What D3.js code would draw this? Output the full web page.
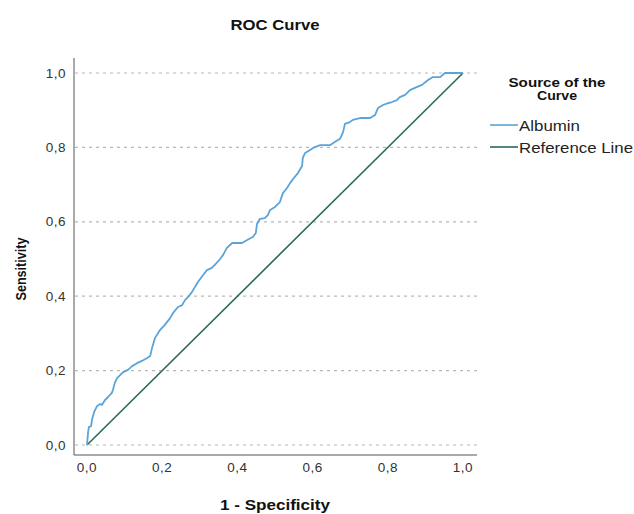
<!DOCTYPE html>
<html><head><meta charset="utf-8">
<script src="https://cdn.jsdelivr.net/npm/d3@7"></script>
<style>body{margin:0;background:#fff}svg{display:block}text{font-family:"Liberation Sans",Arial,sans-serif}</style>
</head><body>
<svg id="c" width="634" height="514"></svg>
<script>
const fpr = [0,0.003,0.005,0.011,0.013,0.019,0.027,0.035,0.040,0.048,0.056,0.066,0.069,0.074,0.080,0.088,0.096,0.109,0.120,0.133,0.146,0.160,0.168,0.173,0.181,0.194,0.207,0.221,0.229,0.242,0.253,0.261,0.269,0.279,0.287,0.295,0.309,0.319,0.332,0.340,0.354,0.362,0.372,0.386,0.412,0.426,0.441,0.449,0.452,0.460,0.473,0.481,0.487,0.500,0.513,0.521,0.532,0.540,0.548,0.561,0.572,0.574,0.580,0.593,0.606,0.620,0.646,0.660,0.673,0.681,0.686,0.699,0.707,0.726,0.753,0.766,0.774,0.787,0.801,0.811,0.824,0.832,0.846,0.859,0.872,0.891,0.907,0.920,0.939,0.952,1.000];
const tpr = [0,0.035,0.048,0.051,0.067,0.089,0.105,0.110,0.108,0.121,0.129,0.140,0.148,0.167,0.180,0.188,0.196,0.202,0.212,0.220,0.226,0.234,0.239,0.261,0.288,0.309,0.323,0.341,0.355,0.371,0.376,0.390,0.398,0.411,0.425,0.438,0.457,0.470,0.476,0.484,0.500,0.511,0.530,0.543,0.543,0.551,0.559,0.570,0.594,0.608,0.610,0.618,0.632,0.640,0.653,0.677,0.691,0.704,0.715,0.731,0.750,0.772,0.785,0.793,0.801,0.806,0.806,0.815,0.823,0.841,0.863,0.868,0.874,0.879,0.879,0.887,0.906,0.914,0.919,0.922,0.927,0.935,0.941,0.954,0.960,0.968,0.981,0.989,0.989,1.000,1.000];
const refLine = [0, 1];
const ticks = [0, 0.2, 0.4, 0.6, 0.8, 1.0];
const tickLabels = ["0,0","0,2","0,4","0,6","0,8","1,0"];
const seriesNames = ["Albumin", "Reference Line"];
const colors = ["#5aa4d8", "#2a6a5e"];

const svg = d3.select("#c");
const x = d3.scaleLinear().domain([0,1]).range([87,463]);
const y = d3.scaleLinear().domain([0,1]).range([445,73]);
const axX0 = 74, axX1 = 477, axY0 = 58, axY1 = 455;

// gridlines
svg.append("g").selectAll("line").data(ticks).join("line")
  .attr("x1", axX0+1).attr("x2", axX1).attr("y1", d=>y(d)).attr("y2", d=>y(d))
  .attr("stroke", "#b8b8b8").attr("stroke-width", 1.2).attr("stroke-dasharray", "3,4");

// axes lines
svg.append("line").attr("x1",axX0).attr("x2",axX0).attr("y1",axY0).attr("y2",axY1).attr("stroke","#555");
svg.append("line").attr("x1",axX0).attr("x2",axX1).attr("y1",axY1).attr("y2",axY1).attr("stroke","#555");

// tick labels
svg.append("g").selectAll("text").data(ticks).join("text")
  .attr("x", d=>x(d)).attr("y", 472).attr("text-anchor","middle")
  .attr("font-size", 13.5).attr("letter-spacing", 0.5).attr("fill","#333").text((d,i)=>tickLabels[i]);
svg.append("g").selectAll("text").data(ticks).join("text")
  .attr("x", 66).attr("y", d=>y(d)+4.5).attr("text-anchor","end")
  .attr("font-size", 13.5).attr("letter-spacing", 0.5).attr("fill","#333").text((d,i)=>tickLabels[i]);

// reference line
svg.append("path").datum(refLine)
  .attr("d", d3.line().x(d=>x(d)).y(d=>y(d)))
  .attr("fill","none").attr("stroke", colors[1]).attr("stroke-width", 1.6);

// ROC curve
const pts = fpr.map((f,i)=>[f,tpr[i]]);
svg.append("path").datum(pts)
  .attr("d", d3.line().x(d=>x(d[0])).y(d=>y(d[1])))
  .attr("fill","none").attr("stroke", colors[0]).attr("stroke-width", 1.8).attr("stroke-linejoin","round");

// titles
svg.append("text").attr("x", 275).attr("y", 30).attr("text-anchor","middle")
  .attr("font-size", 15).attr("font-weight","bold").attr("fill","#111")
  .attr("textLength", 89).attr("lengthAdjust","spacingAndGlyphs").text("ROC Curve");
svg.append("text").attr("x", 275).attr("y", 510).attr("text-anchor","middle")
  .attr("font-size", 15).attr("font-weight","bold").attr("fill","#111")
  .attr("textLength", 110).attr("lengthAdjust","spacingAndGlyphs").text("1 - Specificity");
svg.append("text").attr("transform","translate(26,269) rotate(-90)").attr("text-anchor","middle")
  .attr("font-size", 15.5).attr("font-weight","bold").attr("fill","#111")
  .attr("textLength", 63).attr("lengthAdjust","spacingAndGlyphs").text("Sensitivity");

// legend
svg.append("text").attr("x", 557).attr("y", 87).attr("text-anchor","middle")
  .attr("font-size", 12.5).attr("font-weight","bold").attr("fill","#111")
  .attr("textLength", 97).attr("lengthAdjust","spacingAndGlyphs").text("Source of the");
svg.append("text").attr("x", 557).attr("y", 100).attr("text-anchor","middle")
  .attr("font-size", 12.5).attr("font-weight","bold").attr("fill","#111")
  .attr("textLength", 40).attr("lengthAdjust","spacingAndGlyphs").text("Curve");
const lg = svg.append("g").selectAll("g").data(seriesNames).join("g")
  .attr("transform", (d,i)=>`translate(490,${125 + i*22})`);
lg.append("line").attr("x1",0).attr("x2",28).attr("y1",0).attr("y2",0)
  .attr("stroke",(d,i)=>colors[i]).attr("stroke-width",1.6);
lg.append("text").attr("x",29).attr("y",5.5).attr("font-size",15).attr("fill","#222")
  .attr("textLength",(d,i)=>[61,114][i]).attr("lengthAdjust","spacingAndGlyphs").text(d=>d);
</script>
</body></html>
